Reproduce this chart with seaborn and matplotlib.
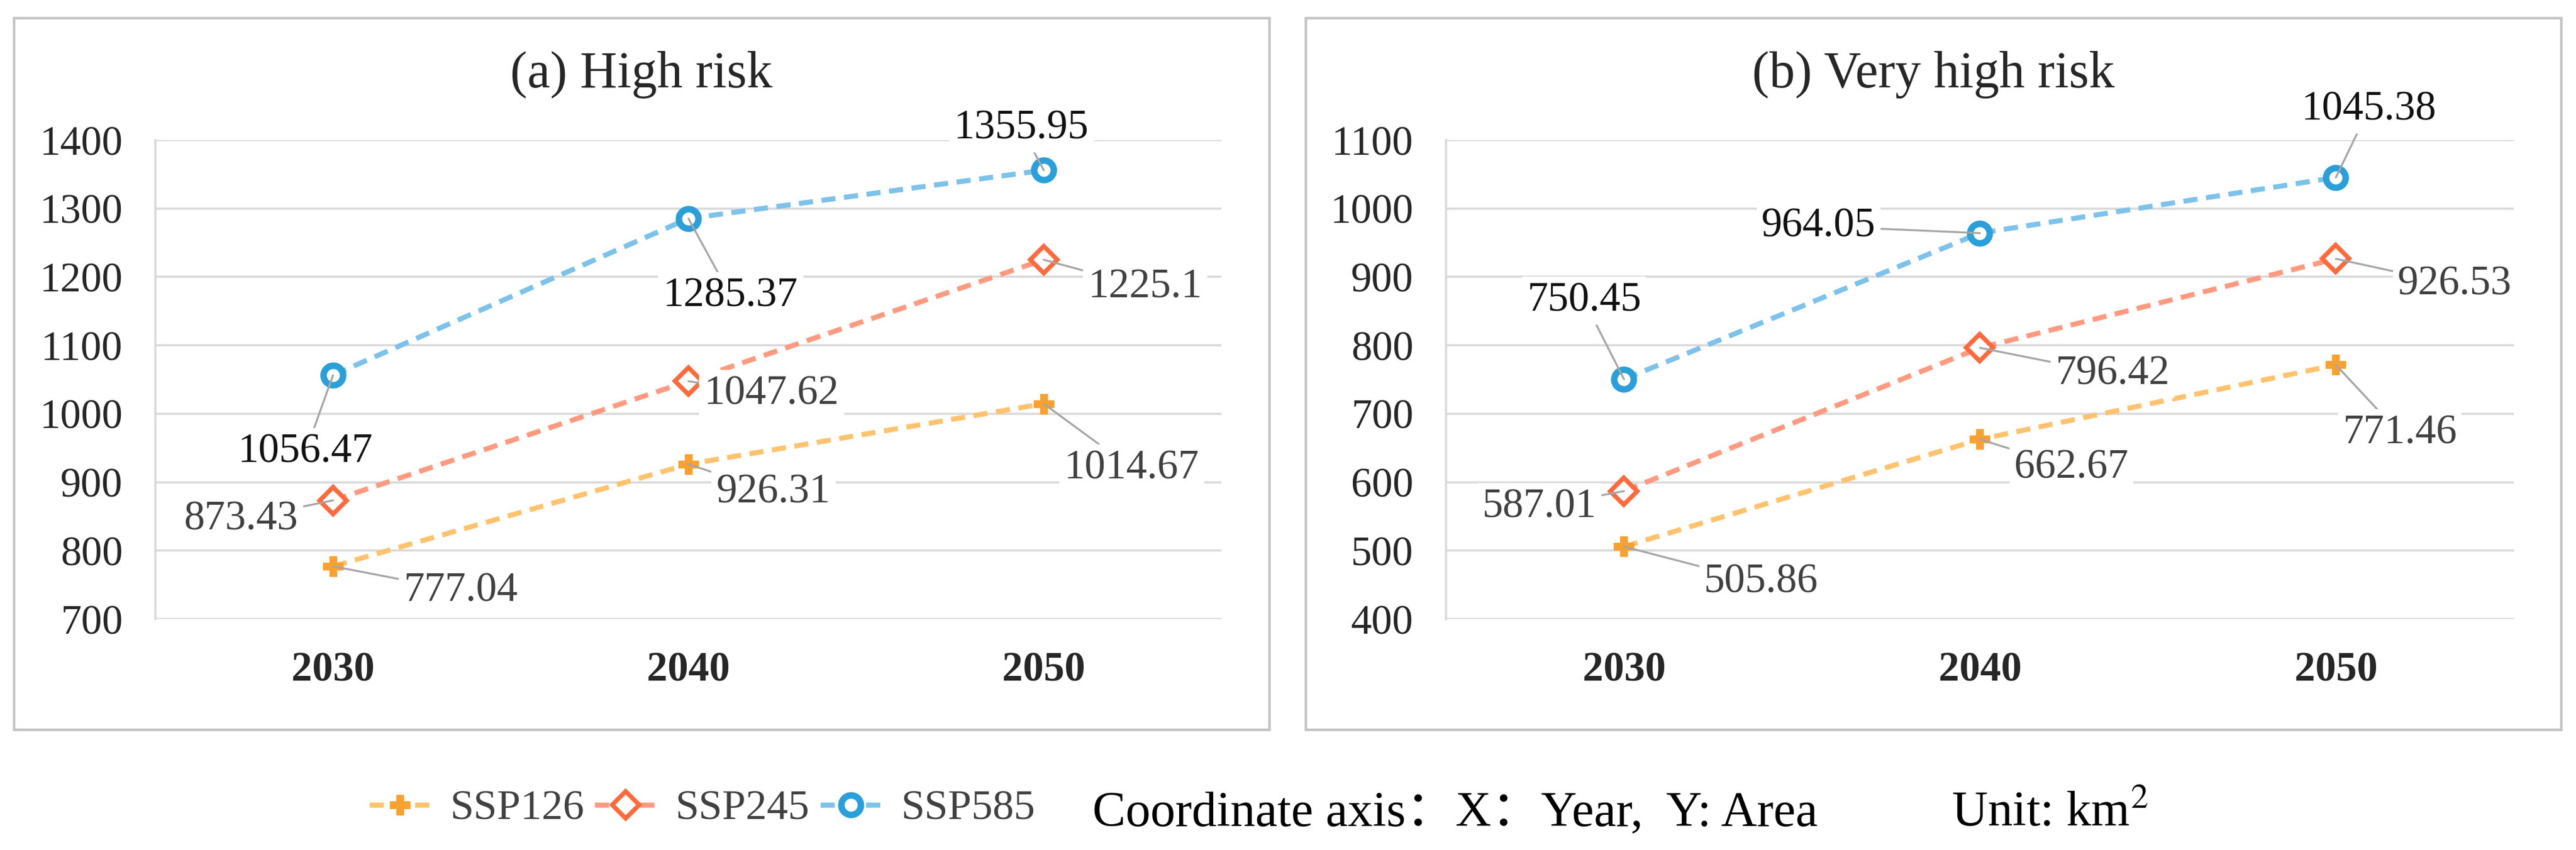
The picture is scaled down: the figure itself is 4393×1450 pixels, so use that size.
import numpy as np
import matplotlib
matplotlib.use("Agg")
import matplotlib.pyplot as plt
from matplotlib.patches import Rectangle
import pandas as pd
import seaborn as sns

# ---- data ----
years = [2030, 2040, 2050]
scenarios = ["SSP126", "SSP245", "SSP585"]

high_ssp126 = [777.04, 926.31, 1014.67]
high_ssp245 = [873.43, 1047.62, 1225.1]
high_ssp585 = [1056.47, 1285.37, 1355.95]

vhigh_ssp126 = [505.86, 662.67, 771.46]
vhigh_ssp245 = [587.01, 796.42, 926.53]
vhigh_ssp585 = [750.45, 964.05, 1045.38]

high_ticks = [700, 800, 900, 1000, 1100, 1200, 1300, 1400]
vhigh_ticks = [400, 500, 600, 700, 800, 900, 1000, 1100]

# label offsets from the point, in pixels (x right, y down)
high_offsets = {
    "SSP126": [(218, 42), (145, 48), (150, 110)],
    "SSP245": [(-157, 32), (142, 22), (173, 47)],
    "SSP585": [(-47, 131), (72, 132), (-38, -71)],
}
vhigh_offsets = {
    "SSP126": [(234, 61), (156, 49), (109, 117)],
    "SSP245": [(-144, 27), (226, 45), (203, 44)],
    "SSP585": [(-68, -134), (-275, -12), (56, -116)],
}

line_colors = {"SSP126": "#FFC36E", "SSP245": "#FF9A80", "SSP585": "#7CC2EA"}
mark_colors = {"SSP126": "#F8A131", "SSP245": "#FF6A3D", "SSP585": "#2A9FDA"}
label_colors = {"SSP126": "#404040", "SSP245": "#404040", "SSP585": "#111111"}


def long_frame(s126, s245, s585):
    rows = []
    for name, vals in zip(scenarios, [s126, s245, s585]):
        for y, v in zip(years, vals):
            rows.append({"year": y, "area": v, "scenario": name})
    return pd.DataFrame(rows)


df_high = long_frame(high_ssp126, high_ssp245, high_ssp585)
df_vhigh = long_frame(vhigh_ssp126, vhigh_ssp245, vhigh_ssp585)

sns.set_theme(style="white")
plt.rcParams["font.family"] = ["Liberation Serif", "Noto Sans CJK SC"]
plt.rcParams["mathtext.fontset"] = "stix"

W, H = 4393, 1450
fig = plt.figure(figsize=(W / 100, H / 100), dpi=100)
fig.patch.set_facecolor("white")

PX = 0.72  # points per pixel at dpi 100

# panel frames
for x0, x1 in [(24, 2165), (2227, 4368)]:
    fig.patches.append(Rectangle((x0 / W, 1 - 1245 / H), (x1 - x0) / W, (1245 - 31) / H,
                                 transform=fig.transFigure, fill=False,
                                 edgecolor="#C4C4C4", lw=3.2, zorder=0))

ax1 = fig.add_axes([265 / W, 1 - 1056 / H, (2083 - 265) / W, (1056 - 239) / H])
ax2 = fig.add_axes([2466 / W, 1 - 1056 / H, (4287 - 2466) / W, (1056 - 239) / H])

markers = {"SSP126": "P", "SSP245": "D", "SSP585": "o"}
dashes = {s: (2.8, 1.7) for s in scenarios}


def draw_panel(ax, df, ticks, offsets, title, title_x):
    sns.lineplot(data=df, x="year", y="area", hue="scenario", style="scenario",
                 hue_order=scenarios, style_order=scenarios,
                 palette=line_colors, markers=markers, dashes=dashes,
                 linewidth=6.2, legend=False, ax=ax)
    for line, s in zip(ax.get_lines(), scenarios):
        line.set_color(line_colors[s])
        line.set_markeredgecolor(mark_colors[s])
        line.set_zorder(3)
        if s == "SSP126":
            line.set_markerfacecolor(mark_colors[s])
            line.set_markersize(24)
            line.set_markeredgewidth(1)
        elif s == "SSP245":
            line.set_markerfacecolor("white")
            line.set_markersize(23)
            line.set_markeredgewidth(5.5)
        else:
            line.set_markerfacecolor("white")
            line.set_markersize(24)
            line.set_markeredgewidth(8)

    # data labels with leader lines
    for s in scenarios:
        sub = df[df["scenario"] == s]
        for (yr, val), (dx, dy) in zip(zip(sub["year"], sub["area"]), offsets[s]):
            ax.annotate(f"{val:g}", xy=(yr, val), xytext=(dx * PX, -dy * PX),
                        textcoords="offset points", ha="center", va="center",
                        fontsize=51, color=label_colors[s], zorder=4,
                        bbox=dict(boxstyle="square,pad=0.12", fc="white", ec="none"),
                        arrowprops=dict(arrowstyle="-", color="#A6A6A6", lw=2.4,
                                        shrinkA=0, shrinkB=0))

    ax.set_xlim(2025, 2055)
    ax.set_ylim(ticks[0], ticks[-1])
    ax.set_xticks(years)
    ax.set_xticklabels([str(y) for y in years], fontweight="bold")
    ax.set_yticks(ticks)
    ax.set_xlabel("")
    ax.set_ylabel("")
    ax.tick_params(axis="y", length=0, pad=40, labelsize=51, labelcolor="#262626")
    ax.tick_params(axis="x", length=0, pad=40, labelsize=51, labelcolor="#262626")
    ax.grid(axis="y", color="#D9D9D9", lw=2.6)
    ax.grid(axis="x", visible=False)
    ax.set_axisbelow(True)
    for side in ["top", "right", "bottom"]:
        ax.spines[side].set_visible(False)
    ax.spines["left"].set_color("#D9D9D9")
    ax.spines["left"].set_linewidth(2.6)
    ax.set_facecolor("none")
    fig.text(title_x, 1 - 128 / H, title, ha="center", va="center",
             fontsize=63, color="#262626")


draw_panel(ax1, df_high, high_ticks, high_offsets, "(a) High risk", 1094 / W)
draw_panel(ax2, df_vhigh, vhigh_ticks, vhigh_offsets, "(b) Very high risk", 3297 / W)

# legend + notes at the bottom
handles = ax1.get_lines()[:3]
fig.legend(handles, scenarios, loc="center left",
           bbox_to_anchor=(630 / W, 1 - 1380 / H), ncol=3, frameon=False,
           fontsize=52, handlelength=1.45, handletextpad=0.45, columnspacing=0.25,
           borderpad=0, borderaxespad=0, labelcolor="#404040")

fig.text(1863 / W, 1 - 1409 / H, "Coordinate axis：X：Year,  Y: Area",
         ha="left", va="baseline", fontsize=61, color="black",
         family=["Liberation Serif", "Noto Sans CJK SC"])
fig.text(3328 / W, 1 - 1409 / H, "Unit: km$^2$", ha="left", va="baseline",
         fontsize=61, color="black")

fig.savefig("out.png", dpi=100, facecolor="white")
